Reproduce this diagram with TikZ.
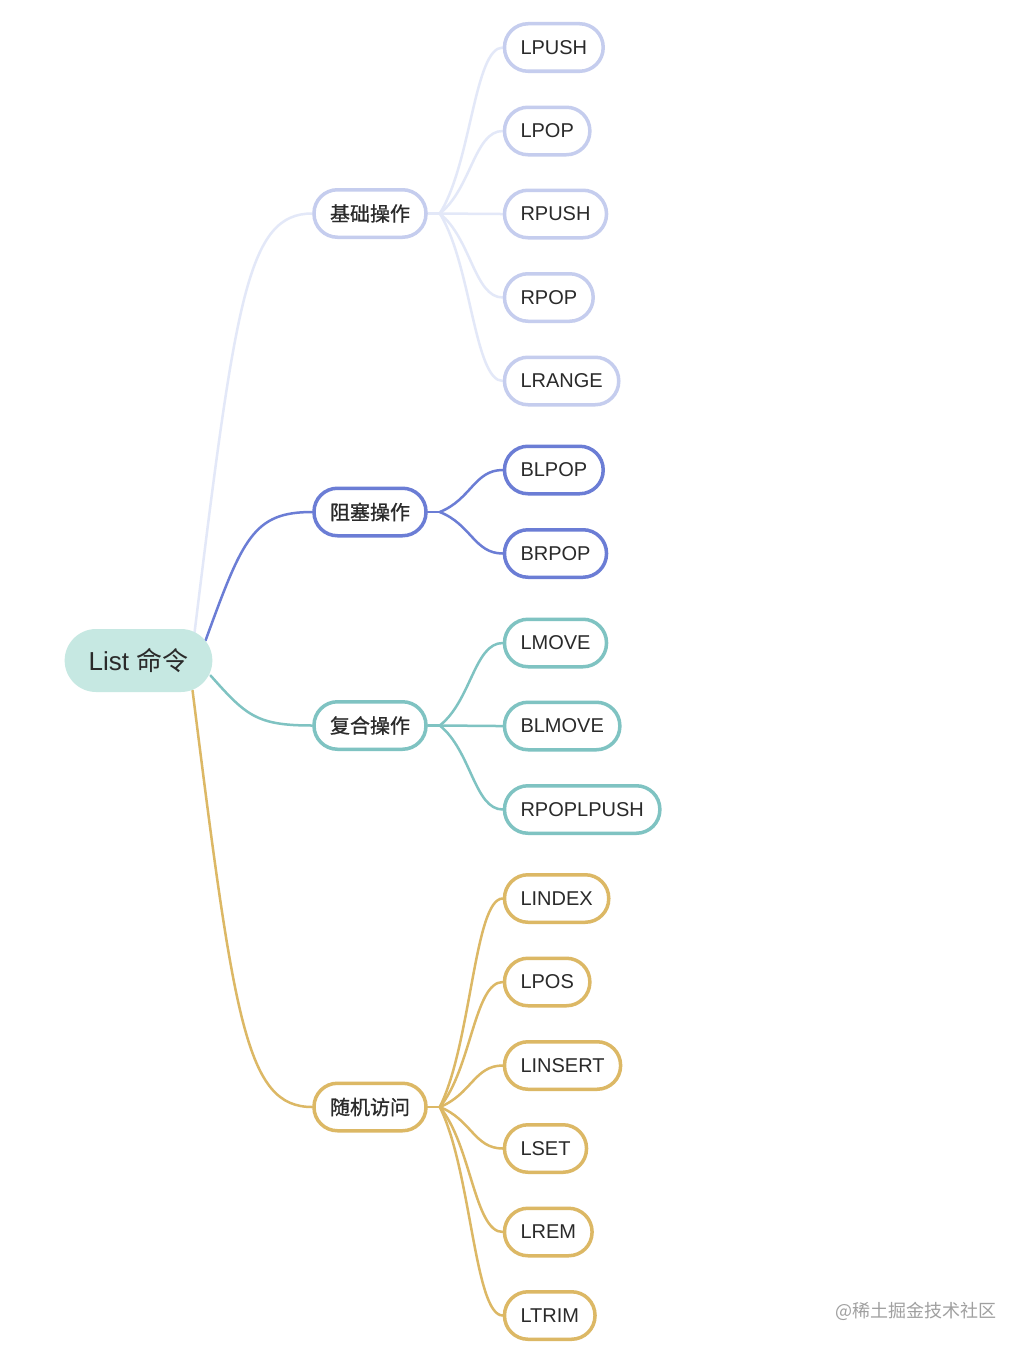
\documentclass[tikz,border=0pt]{standalone}
\usepackage{fontspec}
\setmainfont{Liberation Sans}
\newfontfamily\cjk{Noto Sans CJK SC}
\newfontfamily\cjkm{Noto Sans CJK SC}[FakeBold=0.9]
\usetikzlibrary{calc,backgrounds}
\definecolor{txt}{HTML}{2A2A2A}
\definecolor{rootc}{HTML}{C6E8E2}
\definecolor{lavB}{HTML}{C5CDEE}
\definecolor{lavL}{HTML}{E3E8F8}
\definecolor{blueC}{HTML}{6B7DD5}
\definecolor{tealC}{HTML}{7FC3C2}
\definecolor{goldC}{HTML}{DCB865}
\definecolor{wm}{HTML}{A0A0A0}
\tikzset{
  pill/.style={rounded corners=23.5pt, minimum height=47.5pt, inner xsep=16pt, inner ysep=0pt,
    line width=3.5pt, fill=white, text=txt, font=\fontsize{20}{20}\selectfont},
  leaf/.style={pill, anchor=west},
  mid/.style={pill, anchor=center, font=\cjkm\fontsize{20}{20}\selectfont},
  rootbox/.style={rounded corners=31.5pt, minimum height=63pt, inner xsep=24pt, fill=rootc,
    text=txt, font=\fontsize{26}{26}\selectfont},
  conn/.style={line width=2.5pt, line cap=round},
  sw/.style={draw=lavB}, swl/.style={conn, draw=lavL},
  sb/.style={draw=blueC}, sbl/.style={conn, draw=blueC},
  st/.style={draw=tealC}, stl/.style={conn, draw=tealC},
  sg/.style={draw=goldC}, sgl/.style={conn, draw=goldC},
}
% root-to-branch curve
\newcommand\rlink[3]{\draw[#1] let \p1=(#2), \p2=(#3) in (\p1) .. controls ({\x1+0.35*(\x2-\x1)},{\y1+0.8*(\y2-\y1)}) and ({\x1+0.45*(\x2-\x1)},\y2) .. (\p2);}
% branch-to-leaf curve
\newcommand\blink[3]{\draw[#1] let \p1=(#2), \p2=(#3) in (\p1) .. controls ({\x1+0.5*(\x2-\x1)},{\y1+0.3*(\y2-\y1)}) and ({\x1+0.55*(\x2-\x1)},\y2) .. (\p2);}
\begin{document}
\begin{tikzpicture}[x=1pt,y=-1pt]
\useasboundingbox (0,0) rectangle (1028,1354);

% root
\node[rootbox] (root) at (138.5,660.5) {List {\cjk 命令}};

% level 1
\node[mid,sw] (b1) at (370,213.5) {基础操作};
\node[mid,sb] (b2) at (370,512) {阻塞操作};
\node[mid,st] (b3) at (370,725.5) {复合操作};
\node[mid,sg] (b4) at (370,1107) {随机访问};

% leaves
\node[leaf,sw] (w1) at (502.75,47.5) {LPUSH};
\node[leaf,sw] (w2) at (502.75,131) {LPOP};
\node[leaf,sw] (w3) at (502.75,214) {RPUSH};
\node[leaf,sw] (w4) at (502.75,297.5) {RPOP};
\node[leaf,sw] (w5) at (502.75,381) {LRANGE};

\node[leaf,sb] (k1) at (502.75,470) {BLPOP};
\node[leaf,sb] (k2) at (502.75,553.5) {BRPOP};

\node[leaf,st] (t1) at (502.75,643) {LMOVE};
\node[leaf,st] (t2) at (502.75,726) {BLMOVE};
\node[leaf,st] (t3) at (502.75,809.5) {RPOPLPUSH};

\node[leaf,sg] (g1) at (502.75,898.5) {LINDEX};
\node[leaf,sg] (g2) at (502.75,982) {LPOS};
\node[leaf,sg] (g3) at (502.75,1065.5) {LINSERT};
\node[leaf,sg] (g4) at (502.75,1148.5) {LSET};
\node[leaf,sg] (g5) at (502.75,1232) {LREM};
\node[leaf,sg] (g6) at (502.75,1315.5) {LTRIM};

\node[font=\cjk\fontsize{18}{18}\selectfont, text=wm] (mark) at (916,1311) {@稀土掘金技术社区};

\begin{scope}[on background layer]
  \fill[white] (0,0) rectangle (1028,1354);
  \coordinate (r1) at ($(root.east)+(-18,-28)$);
  \coordinate (r2) at ($(root.east)+(-7,-20)$);
  \coordinate (r3) at ($(root.east)+(-2,15)$);
  \coordinate (r4) at ($(root.east)+(-20,30)$);
  \rlink{swl}{r1}{b1.west}
  \rlink{sbl}{r2}{b2.west}
  \rlink{stl}{r3}{b3.west}
  \rlink{sgl}{r4}{b4.west}

  \coordinate (h1) at ($(b1.east)+(12,0)$);
  \coordinate (h2) at ($(b2.east)+(12,0)$);
  \coordinate (h3) at ($(b3.east)+(12,0)$);
  \coordinate (h4) at ($(b4.east)+(12,0)$);
  \draw[swl] (b1.east) -- (h1);
  \draw[sbl] (b2.east) -- (h2);
  \draw[stl] (b3.east) -- (h3);
  \draw[sgl] (b4.east) -- (h4);

  \foreach \nm in {w1,w2,w3,w4,w5}{\blink{swl}{h1}{\nm.west}}
  \foreach \nm in {k1,k2}{\blink{sbl}{h2}{\nm.west}}
  \foreach \nm in {t1,t2,t3}{\blink{stl}{h3}{\nm.west}}
  \foreach \nm in {g1,g2,g3,g4,g5,g6}{\blink{sgl}{h4}{\nm.west}}
\end{scope}
\end{tikzpicture}
\end{document}
